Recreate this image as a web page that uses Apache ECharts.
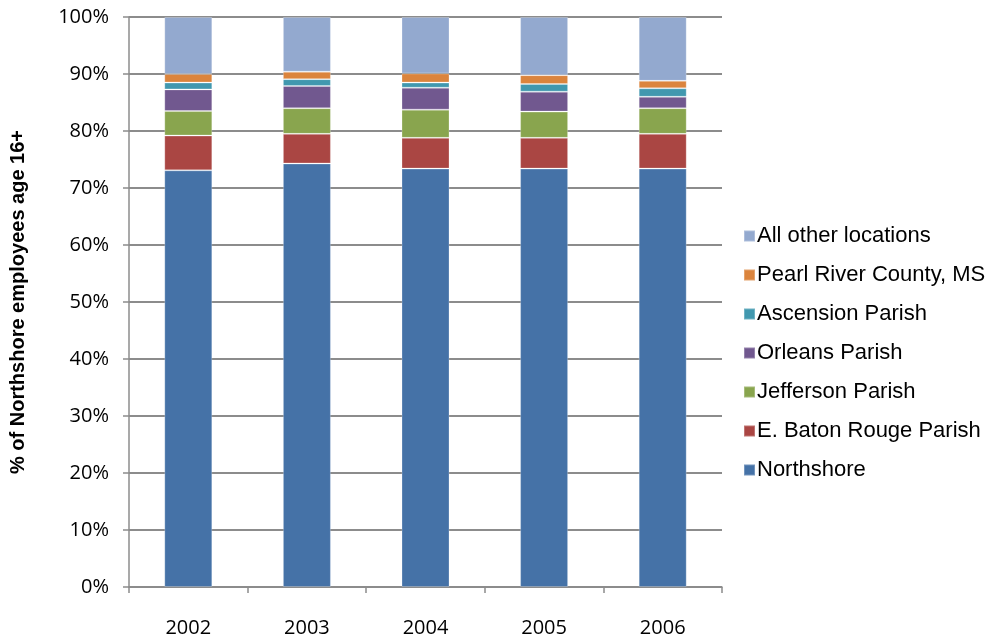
<!DOCTYPE html>
<html>
<head>
<meta charset="utf-8">
<script src="https://cdn.jsdelivr.net/npm/echarts@6/dist/echarts.min.js"></script>
<style>html,body{margin:0;padding:0;background:#fff}#c{width:987px;height:641px}</style>
</head>
<body>
<div id="c"></div>
<script>
var years = ['2002', '2003', '2004', '2005', '2006'];
var northshore = [73.1, 74.3, 73.4, 73.4, 73.4];
var ebatonrouge = [6.1, 5.2, 5.4, 5.4, 6.1];
var jefferson = [4.3, 4.5, 4.95, 4.6, 4.5];
var orleans = [3.8, 3.9, 3.85, 3.5, 2.0];
var ascension = [1.2, 1.2, 0.9, 1.35, 1.5];
var pearlRiver = [1.5, 1.3, 1.6, 1.55, 1.3];
var allOther = [10.0, 9.6, 9.9, 10.2, 11.2];
var yTicks = [0, 10, 20, 30, 40, 50, 60, 70, 80, 90, 100];

var seriesDefs = [
  ['Northshore', northshore, '#4572A7'],
  ['E. Baton Rouge Parish', ebatonrouge, '#AA4643'],
  ['Jefferson Parish', jefferson, '#89A54E'],
  ['Orleans Parish', orleans, '#71588F'],
  ['Ascension Parish', ascension, '#4198AF'],
  ['Pearl River County, MS', pearlRiver, '#DB843D'],
  ['All other locations', allOther, '#93A9CF']
];

var chart = echarts.init(document.getElementById('c'), null, {renderer: 'canvas'});
chart.setOption({
  animation: false,
  backgroundColor: '#ffffff',
  grid: {left: 129, right: 265, top: 17, bottom: 54, containLabel: false},
  legend: {
    orient: 'vertical',
    left: 738,
    top: 220,
    itemWidth: 11,
    itemHeight: 11,
    itemGap: 17,
    icon: 'rect',
    data: seriesDefs.map(function (d) { return d[0]; }).reverse(),
    textStyle: {fontFamily: 'Liberation Sans, Arial, sans-serif', fontSize: 22, color: '#000', padding: [0, 0, 0, -3]}
  },
  xAxis: {
    type: 'category',
    data: years,
    axisLine: {lineStyle: {color: '#8c8c8c', width: 1.5}},
    axisTick: {show: true, alignWithLabel: false, length: 6, lineStyle: {color: '#8c8c8c', width: 1.5}},
    axisLabel: {fontFamily: 'Open Sans, Liberation Sans, sans-serif', fontSize: 20, color: '#000', margin: 31}
  },
  yAxis: {
    type: 'value',
    min: 0, max: 100, interval: 10,
    name: '% of Northshore employees age 16+',
    nameLocation: 'middle',
    nameRotate: 90,
    nameGap: 101,
    nameTextStyle: {fontFamily: 'Liberation Sans, Arial, sans-serif', fontSize: 20, fontWeight: 'bold', color: '#000'},
    axisLine: {show: true, lineStyle: {color: '#8c8c8c', width: 1.5}},
    axisTick: {show: true, length: 6, lineStyle: {color: '#8c8c8c', width: 1.5}},
    axisLabel: {fontFamily: 'Open Sans, Liberation Sans, sans-serif', fontSize: 20, color: '#000', margin: 20,
      formatter: function (v) { return yTicks.indexOf(v) >= 0 ? v + '%' : ''; }},
    splitLine: {show: true, lineStyle: {color: '#8c8c8c', width: 2}}
  },
  series: seriesDefs.map(function (d) {
    return {
      name: d[0],
      type: 'bar',
      stack: 'total',
      data: d[1],
      barWidth: 48,
      itemStyle: {color: d[2], borderColor: 'rgba(255,255,255,0.25)', borderWidth: 1}
    };
  })
});
</script>
</body>
</html>
